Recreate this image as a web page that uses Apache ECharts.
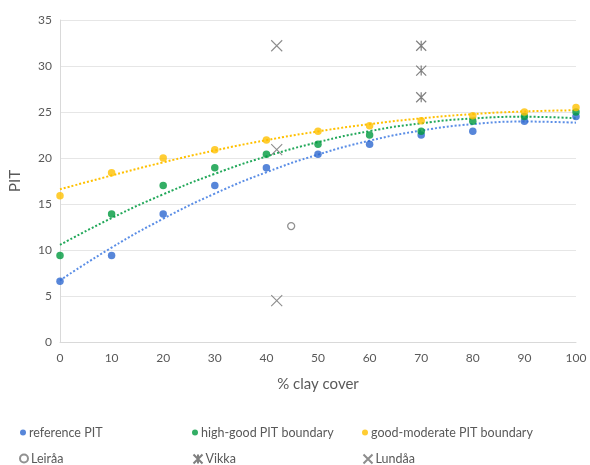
<!DOCTYPE html>
<html><head><meta charset="utf-8">
<script src="https://cdn.jsdelivr.net/npm/echarts@6/dist/echarts.min.js"></script>
<style>html,body{margin:0;padding:0;background:#fff}#c{width:590px;height:465px}</style>
</head><body><div id="c"></div>
<script>
var clayCover = [0,10,20,30,40,50,60,70,80,90,100];
var referencePIT = [6.6,9.4,13.9,17.0,18.95,20.4,21.5,22.5,22.9,24.0,24.5];
var highGood = [9.4,13.9,17.0,18.95,20.4,21.5,22.5,22.9,24.0,24.5,25.0];
var goodModerate = [15.9,18.4,20.0,20.9,21.96,22.9,23.5,24.05,24.6,25.0,25.5];
// trend lines (order-2 polynomial)
var trendRef = [6.7,10.26,13.4,16.13,18.45,20.37,21.88,22.98,23.68,23.96,23.84];
var trendHigh = [10.56,13.47,16.05,18.28,20.17,21.72,22.92,23.78,24.3,24.48,24.32];
var trendGood = [16.6,18.1,19.53,20.82,21.94,22.89,23.68,24.31,24.77,25.06,25.19];
var leiraaX = [44.8], leiraaY = [12.6];
var vikkaX = [70,70,70], vikkaY = [32.2,29.5,26.6];
var lundaaX = [42,42,42], lundaaY = [32.2,20.9,4.5];

function pairs(xs, ys){ return xs.map(function(x,i){return [x, ys[i]];}); }

var FONT = 'Lato';
var GREY = '#595959';
var crossPath = 'path://M0,0L10,10M10,0L0,10';
var astPath = 'path://M0,0L10,10M10,0L0,10M5,0L5,10';

function trend(name, data, color){
  return {name: name, type:'line', data: pairs(clayCover, data), smooth: true, symbol:'none',
    lineStyle:{color: color, width: 2, type:[2,2]}, z: 1, silent: true};
}
function dots(name, data, color){
  return {name: name, type:'scatter', data: pairs(clayCover, data), symbol:'circle', symbolSize: 7.5,
    itemStyle:{color: color}, z: 3};
}
function leg(name, left, top, size){
  return {orient:'horizontal', left: left, top: top, itemWidth: size, itemHeight: size, itemGap: 4,
    padding: 0, selectedMode: false, data:[name],
    textStyle:{fontFamily: FONT, fontSize: 12.5, color: GREY, padding:[0,0,0,-2]}};
}

var chart = echarts.init(document.getElementById('c'), null, {renderer:'canvas'});
chart.setOption({
  animation: false,
  textStyle:{fontFamily: FONT},
  grid:{left: 59.5, right: 14, top: 20, bottom: 123},
  xAxis:{type:'value', min:0, max:100, interval:10,
    name:'% clay cover', nameLocation:'middle', nameGap: 35,
    nameTextStyle:{fontFamily: FONT, fontSize: 15, color: GREY},
    axisLine:{show:true, lineStyle:{color:'#d9d9d9'}}, axisTick:{show:false},
    axisLabel:{fontFamily: FONT, fontSize: 12, color: GREY, margin: 10},
    splitLine:{show:false}},
  yAxis:{type:'value', min:0, max:35, interval:5,
    name:'PIT', nameLocation:'middle', nameGap: 37,
    nameTextStyle:{fontFamily: FONT, fontSize: 15, color: GREY},
    axisLine:{show:true, lineStyle:{color:'#d9d9d9'}}, axisTick:{show:false},
    axisLabel:{fontFamily: FONT, fontSize: 12, color: GREY, margin: 8},
    splitLine:{show:true, lineStyle:{color:'#e6e6e6'}}},
  legend:[
    leg('reference PIT', 20, 426, 6),
    leg('high-good PIT boundary', 192, 426, 6),
    leg('good-moderate PIT boundary', 362, 426, 6),
    leg('Leiråa', 19, 452, 8),
    leg('Vikka', 191, 452, 9),
    leg('Lundåa', 361, 452, 9)
  ],
  series:[
    trend('trendRef', trendRef, '#5b8ee6'),
    trend('trendHigh', trendHigh, '#22a85a'),
    trend('trendGood', trendGood, '#ffc000'),
    dots('reference PIT', referencePIT, '#2d68d0'),
    dots('high-good PIT boundary', highGood, '#009a3e'),
    dots('good-moderate PIT boundary', goodModerate, '#ffc000'),
    {name:'Leiråa', type:'scatter', data: pairs(leiraaX, leiraaY), symbol:'circle', symbolSize: 7,
      itemStyle:{color:'#ffffff', borderColor:'#767676', borderWidth: 1.3}, z: 3},
    {name:'Vikka', type:'scatter', data: pairs(vikkaX, vikkaY), symbol: astPath, symbolSize: 10,
      itemStyle:{color:'none', borderColor:'#606060', borderWidth: 1.2}, z: 3},
    {name:'Lundåa', type:'scatter', data: pairs(lundaaX, lundaaY), symbol: crossPath, symbolSize: 11,
      itemStyle:{color:'none', borderColor:'#707070', borderWidth: 1.1}, z: 3}
  ]
});
</script></body></html>
